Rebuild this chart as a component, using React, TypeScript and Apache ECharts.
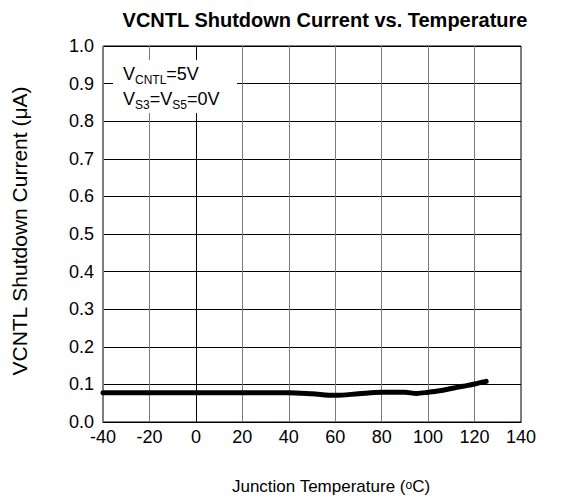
import React, { useEffect, useRef } from "react";
import * as echarts from "echarts";

const temps = [-40, -20, 0, 20, 40, 50, 60, 70, 80, 90, 95, 100, 105, 110, 115, 120, 125];
const currents = [0.078, 0.078, 0.078, 0.078, 0.078, 0.075, 0.071, 0.075, 0.079, 0.079, 0.076, 0.079, 0.083, 0.089, 0.095, 0.101, 0.108];
const xTicks = { min: -40, max: 140, interval: 20 };
const yTicks = { min: 0, max: 1, interval: 0.1 };
const titleText = "VCNTL Shutdown Current vs. Temperature";
const yName = "VCNTL Shutdown Current (\u03bcA)";

const FONT = "'Liberation Sans', Arial, sans-serif";

export default function App() {
  const ref = useRef<HTMLDivElement>(null);
  useEffect(() => {
    document.body.style.margin = "0";
    if (!ref.current) return;
    const chart = echarts.init(ref.current, null, { renderer: "svg" });
    chart.setOption({
      animation: false,
      backgroundColor: "#fff",
      textStyle: { fontFamily: FONT },
      grid: {
        left: 103,
        right: 45,
        top: 46,
        bottom: 79,
        show: true,
        borderColor: "#000",
        borderWidth: 1,
        containLabel: false,
      },
      xAxis: {
        type: "value",
        min: xTicks.min,
        max: xTicks.max,
        interval: xTicks.interval,
        axisLine: { show: true, lineStyle: { color: "#000", width: 1 } },
        axisTick: { show: false },
        axisLabel: { color: "#000", fontSize: 18, fontFamily: FONT, margin: 6 },
        splitLine: { show: true, lineStyle: { color: "#7a7a7a", width: 1 } },
      },
      yAxis: {
        type: "value",
        min: yTicks.min,
        max: yTicks.max,
        interval: yTicks.interval,
        axisLine: { show: true, lineStyle: { color: "#000", width: 1 } },
        axisTick: { show: false },
        axisLabel: {
          color: "#000",
          fontSize: 18,
          fontFamily: FONT,
          margin: 9,
          formatter: (v: number) => v.toFixed(1),
        },
        splitLine: { show: true, lineStyle: { color: "#000", width: 1 } },
      },
      series: [
        {
          type: "line",
          data: temps.map((t, i) => [t, currents[i]]),
          showSymbol: false,
          smooth: 0.3,
          lineStyle: { color: "#000", width: 5, cap: "round", join: "round" },
          z: 5,
        },
      ],
      graphic: [
        {
          type: "text",
          x: 325,
          y: 20,
          style: {
            text: titleText,
            fontFamily: FONT,
            fontSize: 20,
            fontWeight: "bold",
            fill: "#000",
            textAlign: "center",
            textVerticalAlign: "middle",
          },
        },
        {
          type: "text",
          x: 19,
          y: 231,
          rotation: Math.PI / 2,
          style: {
            text: yName,
            fontFamily: FONT,
            fontSize: 21,
            fill: "#000",
            textAlign: "center",
            textVerticalAlign: "middle",
          },
        },
        {
          type: "text",
          x: 331,
          y: 478,
          style: {
            text: "{a|Junction Temperature (}{s|o}{a|C)}",
            fontFamily: FONT,
            fill: "#000",
            textAlign: "center",
            textVerticalAlign: "top",
            rich: {
              a: { fontSize: 17, lineHeight: 19, fontFamily: FONT, fill: "#000", verticalAlign: "top" },
              s: { fontSize: 12, lineHeight: 12, fontFamily: FONT, fill: "#000", verticalAlign: "top", padding: [1, 0, 0, 0] },
            },
          },
        },
        {
          type: "rect",
          z: 50,
          shape: { x: 113, y: 60, width: 124, height: 53 },
          style: { fill: "#fff", stroke: null },
        },
        {
          type: "text",
          z: 51,
          x: 123,
          y: 61,
          style: {
            text: "{a|V}{s|CNTL}{a|=5V}\n{a|V}{s|S3}{a|=V}{s|S5}{a|=0V}",
            fontFamily: FONT,
            fill: "#000",
            textAlign: "left",
            textVerticalAlign: "top",
            rich: {
              a: { fontSize: 18, lineHeight: 25, fontFamily: FONT, fill: "#000" },
              s: { fontSize: 12, lineHeight: 12, fontFamily: FONT, fill: "#000", padding: [12, 0, 0, 0] },
            },
          },
        },
      ],
    });
    return () => chart.dispose();
  }, []);
  return <div ref={ref} style={{ width: 566, height: 501 }} />;
}
